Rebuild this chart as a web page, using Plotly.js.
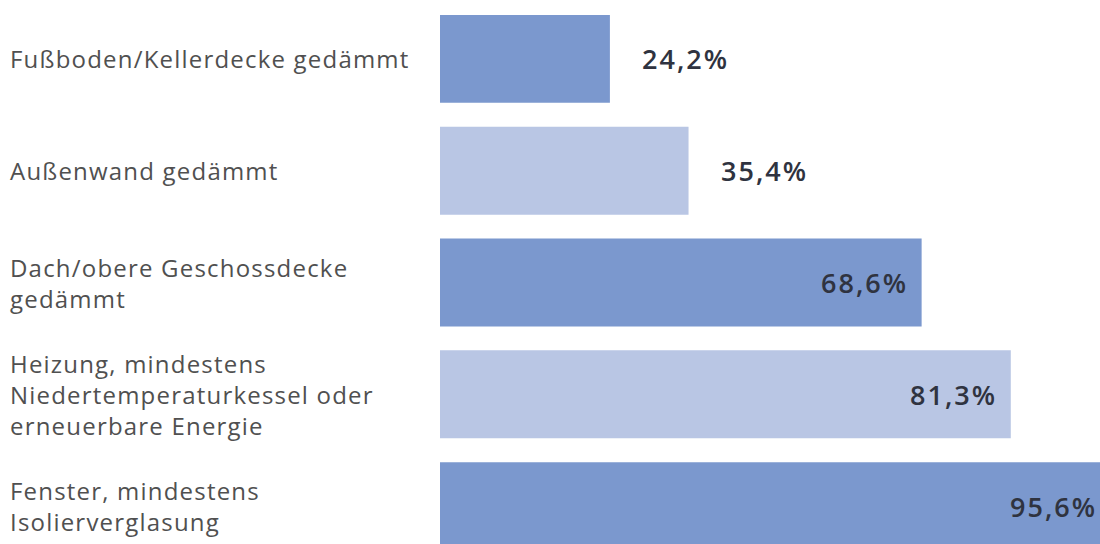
<!DOCTYPE html>
<html>
<head>
<meta charset="utf-8">
<script src="https://cdn.plot.ly/plotly-3.0.1.min.js"></script>
<style>
  html, body { margin: 0; padding: 0; background: #ffffff; overflow: hidden; }
  #wrap { width: 1100px; height: 544px; overflow: hidden; position: relative; }
  #chart { position: absolute; left: 0; top: 0; }
</style>
</head>
<body>
<div id="wrap"><div id="chart"></div></div>
<script>
// ---- data ----
const categories = [
  "Fußboden/Kellerdecke gedämmt",
  "Außenwand gedämmt",
  "Dach/obere Geschossdecke<br>gedämmt",
  "Heizung, mindestens<br>Niedertemperaturkessel oder<br>erneuerbare Energie",
  "Fenster, mindestens<br>Isolierverglasung"
];
const values = [24.2, 35.4, 68.6, 81.3, 95.6];
const valueLabels = ["24,2%", "35,4%", "68,6%", "81,3%", "95,6%"];

// ---- styling ----
const darkBlue = "#7b98ce";
const lightBlue = "#b9c6e4";
const barColors = categories.map((c, i) => (i % 2 === 0 ? darkBlue : lightBlue));
const labelFont = { family: "Open Sans, Noto Sans, sans-serif", size: 24, color: "#505050" };
const valueFont = { family: "Open Sans, Noto Sans, sans-serif", size: 27, color: "#2f3340", weight: 600 };
const insideThreshold = 50;

function spaced(text, px) {
  return text.split("<br>").map(l => `<span style="letter-spacing:${px}px">${l}</span>`).join("<br>");
}

const trace = {
  type: "bar",
  orientation: "h",
  y: categories,
  x: values,
  marker: { color: barColors, line: { width: 0 } },
  hoverinfo: "skip"
};

const annotations = [];
categories.forEach((c, i) => {
  annotations.push({
    xref: "paper", yref: "y",
    x: -0.641, y: c,
    xanchor: "left", yanchor: "middle", align: "left",
    text: spaced(c, 1.2), showarrow: false, font: labelFont
  });
  const inside = values[i] > insideThreshold;
  annotations.push({
    xref: "x", yref: "y",
    x: values[i], y: c,
    xanchor: inside ? "right" : "left", yanchor: "middle",
    xshift: inside ? -12 : 30,
    text: spaced(valueLabels[i], 2), showarrow: false, font: valueFont
  });
});

const layout = {
  width: 1114,
  height: 562,
  margin: { l: 440, r: 0, t: 3, b: 0, pad: 0 },
  paper_bgcolor: "#ffffff",
  plot_bgcolor: "#ffffff",
  showlegend: false,
  bargap: 0.214,
  xaxis: { range: [0, 96], visible: false, fixedrange: true },
  yaxis: {
    type: "category",
    categoryorder: "array",
    categoryarray: categories,
    autorange: "reversed",
    showticklabels: false,
    showgrid: false, zeroline: false, showline: false, ticks: "",
    fixedrange: true
  },
  annotations: annotations
};

Plotly.newPlot("chart", [trace], layout, { displayModeBar: false, staticPlot: true });
</script>
</body>
</html>
